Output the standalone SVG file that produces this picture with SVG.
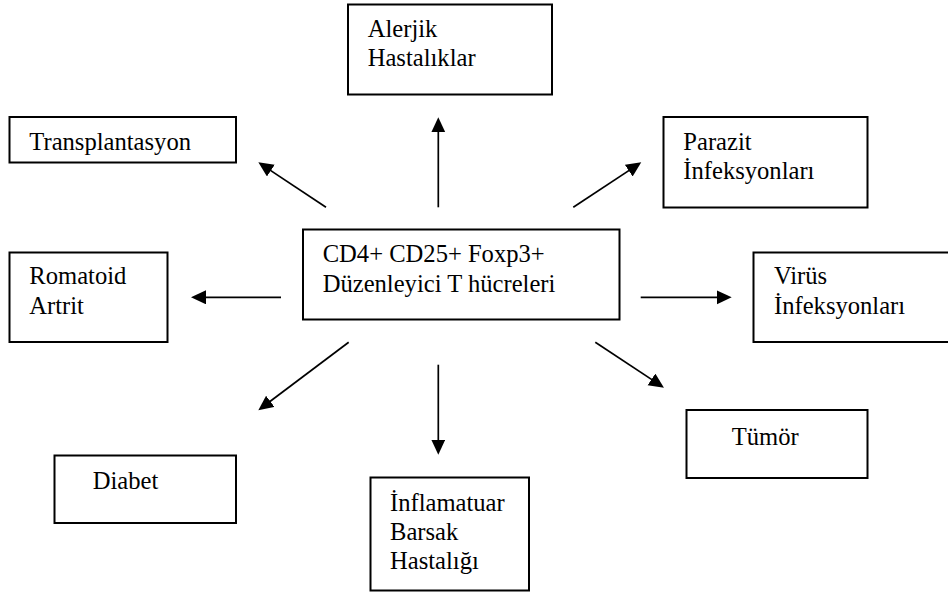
<svg xmlns="http://www.w3.org/2000/svg" width="948" height="593" viewBox="0 0 948 593">
<defs>
<style>
.box{fill:#fff;stroke:#000;stroke-width:2}
.edge{stroke:#000;stroke-width:1.7;fill:none;marker-end:url(#ah)}
</style>
<marker id="ah" markerUnits="userSpaceOnUse" markerWidth="16" markerHeight="15" refX="10" refY="7" orient="auto">
<path d="M0,0 L15,7 L0,14 z" fill="#000"/>
</marker>
</defs>
<rect width="948" height="593" fill="#fff"/>
<g id="connectors">
<line class="edge" x1="326" y1="207.3" x2="262.5" y2="165.1"/>
<line class="edge" x1="438.3" y1="207.3" x2="438.3" y2="122.3"/>
<line class="edge" x1="573.3" y1="207.3" x2="637.1" y2="165.1"/>
<line class="edge" x1="281" y1="297.3" x2="196" y2="297.3"/>
<line class="edge" x1="640.7" y1="297.3" x2="726.7" y2="297.3"/>
<line class="edge" x1="348.7" y1="342.3" x2="262.3" y2="407.3"/>
<line class="edge" x1="438.3" y1="364.7" x2="438.3" y2="449.7"/>
<line class="edge" x1="595.3" y1="342.3" x2="659.8" y2="384.9"/>
</g>
<g font-family="'Liberation Serif', 'DejaVu Serif', serif" font-size="24.6" fill="#000">
<g id="alerjik">
<rect class="box" x="348" y="4.5" width="204" height="90"/>
<text x="367.7" y="36.7">Alerjik</text>
<text x="367.7" y="65.7">Hastalıklar</text>
</g>
<g id="transplantasyon">
<rect class="box" x="9.5" y="117" width="226.5" height="45.5"/>
<text x="29.3" y="150">Transplantasyon</text>
</g>
<g id="parazit">
<rect class="box" x="663.5" y="117" width="204" height="90.5"/>
<text x="683.3" y="150">Parazit</text>
<text x="683.3" y="179">İnfeksyonları</text>
</g>
<g id="center">
<rect class="box" x="303" y="229.5" width="316.5" height="90"/>
<text x="322.7" y="261.7">CD4+ CD25+ Foxp3+</text>
<text x="322.7" y="291.7">Düzenleyici T hücreleri</text>
</g>
<g id="romatoid">
<rect class="box" x="9.5" y="252.5" width="158" height="89.5"/>
<text x="29.3" y="284.3">Romatoid</text>
<text x="29.3" y="313.7">Artrit</text>
</g>
<g id="virus">
<rect class="box" x="753.5" y="252.5" width="200" height="89.5"/>
<text x="774" y="284.3">Virüs</text>
<text x="774" y="313.7">İnfeksyonları</text>
</g>
<g id="diabet">
<rect class="box" x="54.5" y="455.5" width="181.5" height="67.5"/>
<text x="92.7" y="489">Diabet</text>
</g>
<g id="inflamatuar">
<rect class="box" x="370.5" y="477.5" width="158.5" height="113"/>
<text x="390" y="511.3">İnflamatuar</text>
<text x="390" y="539.7">Barsak</text>
<text x="390" y="568.7">Hastalığı</text>
</g>
<g id="tumor">
<rect class="box" x="686.5" y="410" width="181" height="68"/>
<text x="731.7" y="444.7">Tümör</text>
</g>
</g>
</svg>
